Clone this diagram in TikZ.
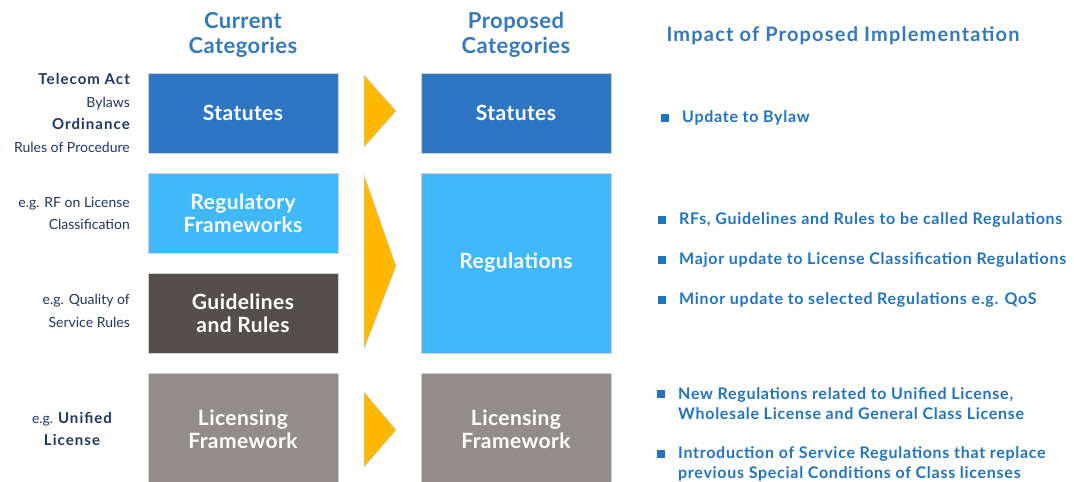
\documentclass[tikz,border=0pt]{standalone}
\usepackage{fontspec}
\setmainfont{Lato}
\usetikzlibrary{positioning}
\definecolor{statblue}{RGB}{47,118,194}
\definecolor{regblue}{RGB}{64,184,250}
\definecolor{guidegray}{RGB}{84,79,76}
\definecolor{licgray}{RGB}{146,141,139}
\definecolor{chevgold}{RGB}{255,184,0}
\definecolor{headblue}{RGB}{52,120,192}
\definecolor{notenavy}{RGB}{30,55,100}
\definecolor{impactblue}{RGB}{32,116,192}
\newcommand{\notebf}[1]{{\fontsize{15}{22.7}\selectfont\bfseries\addfontfeature{LetterSpace=7}#1}}

\begin{document}
\begin{tikzpicture}[x=1pt,y=-1pt,
  catbox/.style={draw=black!18, line width=0.8pt, minimum width=190pt, inner sep=0pt,
    text=white, align=center, font=\fontsize{21}{23}\selectfont\bfseries\addfontfeature{LetterSpace=2}},
  header/.style={text=headblue, align=center, font=\fontsize{22}{25}\selectfont\bfseries\addfontfeature{LetterSpace=2}},
  note/.style={text=notenavy, align=right, anchor=east, inner sep=0pt, font=\fontsize{14}{22.7}\selectfont},
  chevron/.style={fill=chevgold, draw=black!20, line width=0.5pt},
  bullet/.style={fill=impactblue, minimum size=8pt, inner sep=0pt},
  impact/.style={text=impactblue, align=left, anchor=west, inner sep=0pt,
    font=\fontsize{16}{20.5}\selectfont\bfseries\addfontfeature{LetterSpace=4.5}}]
\useasboundingbox (0,0) rectangle (1074,482);
\clip (0,0) rectangle (1074,482);

% column headers
\node[header] (curhead) at (243,35) {Current\\Categories};
\node[header] (prohead) at (516,35) {Proposed\\Categories};
\node[header, anchor=west, font=\fontsize{20}{25}\selectfont\bfseries\addfontfeature{LetterSpace=5.9}] (imphead) at (663,36) {Impact of Proposed Implementation};

% current categories
\node[catbox, fill=statblue,  minimum height=80pt]  (statcur)  at (243,113) {Statutes};
\node[catbox, fill=regblue,   minimum height=80pt]  (regfcur)  at (243,213) {Regulatory\\Frameworks};
\node[catbox, fill=guidegray, minimum height=80pt]  (guidecur) at (243,313) {Guidelines\\and Rules};
\node[catbox, fill=licgray,   minimum height=112pt] (liccur)   at (243,429) {Licensing\\Framework};

% proposed categories
\node[catbox, fill=statblue, minimum height=80pt]  (statpro) at (516,113) {Statutes};
\node[catbox, fill=regblue,  minimum height=180pt] (regpro)  at (516,263) {Regulations};
\node[catbox, fill=licgray,  minimum height=112pt] (licpro)  at (516,429) {Licensing\\Framework};

% chevrons
\draw[chevron] (364,75) -- (396,111) -- (364,147) -- cycle;
\draw[chevron] (364,175) -- (396,266) -- (364,349) -- cycle;
\draw[chevron] (364,392) -- (396,430) -- (364,467) -- cycle;

% examples on the left
\node[note] (statnote)  at (130,113) {\notebf{Telecom Act}\\Bylaws\\\notebf{Ordinance}\\Rules of Procedure};
\node[note] (regfnote)  at (130,213.5) {e.g. RF on License\\Classification};
\node[note] (guidenote) at (130,311) {e.g. Quality of\\Service Rules};
\node[note, align=center, anchor=center] (licnote) at (72,429) {e.g. \notebf{Unified}\\\notebf{License}};

% impact list
\node[bullet] (b1) at (665,118) {};
\node[impact] (i1) at (682,118) {Update to Bylaw};
\node[bullet] (b2) at (662,220) {};
\node[impact] (i2) at (679,220) {RFs, Guidelines and Rules to be called Regulations};
\node[bullet] (b3) at (662,260) {};
\node[impact] (i3) at (679,260) {Major update to License Classification Regulations};
\node[bullet] (b4) at (662,300) {};
\node[impact] (i4) at (679,300) {Minor update to selected Regulations e.g. QoS};
\node[bullet] (b5) at (661,394) {};
\node[impact] (i5) at (678,403.5) {New Regulations related to Unified License,\\Wholesale License and General Class License};
\node[bullet] (b6) at (661,454) {};
\node[impact] (i6) at (678,464) {Introduction of Service Regulations that replace\\previous Special Conditions of Class licenses};
\end{tikzpicture}
\end{document}
